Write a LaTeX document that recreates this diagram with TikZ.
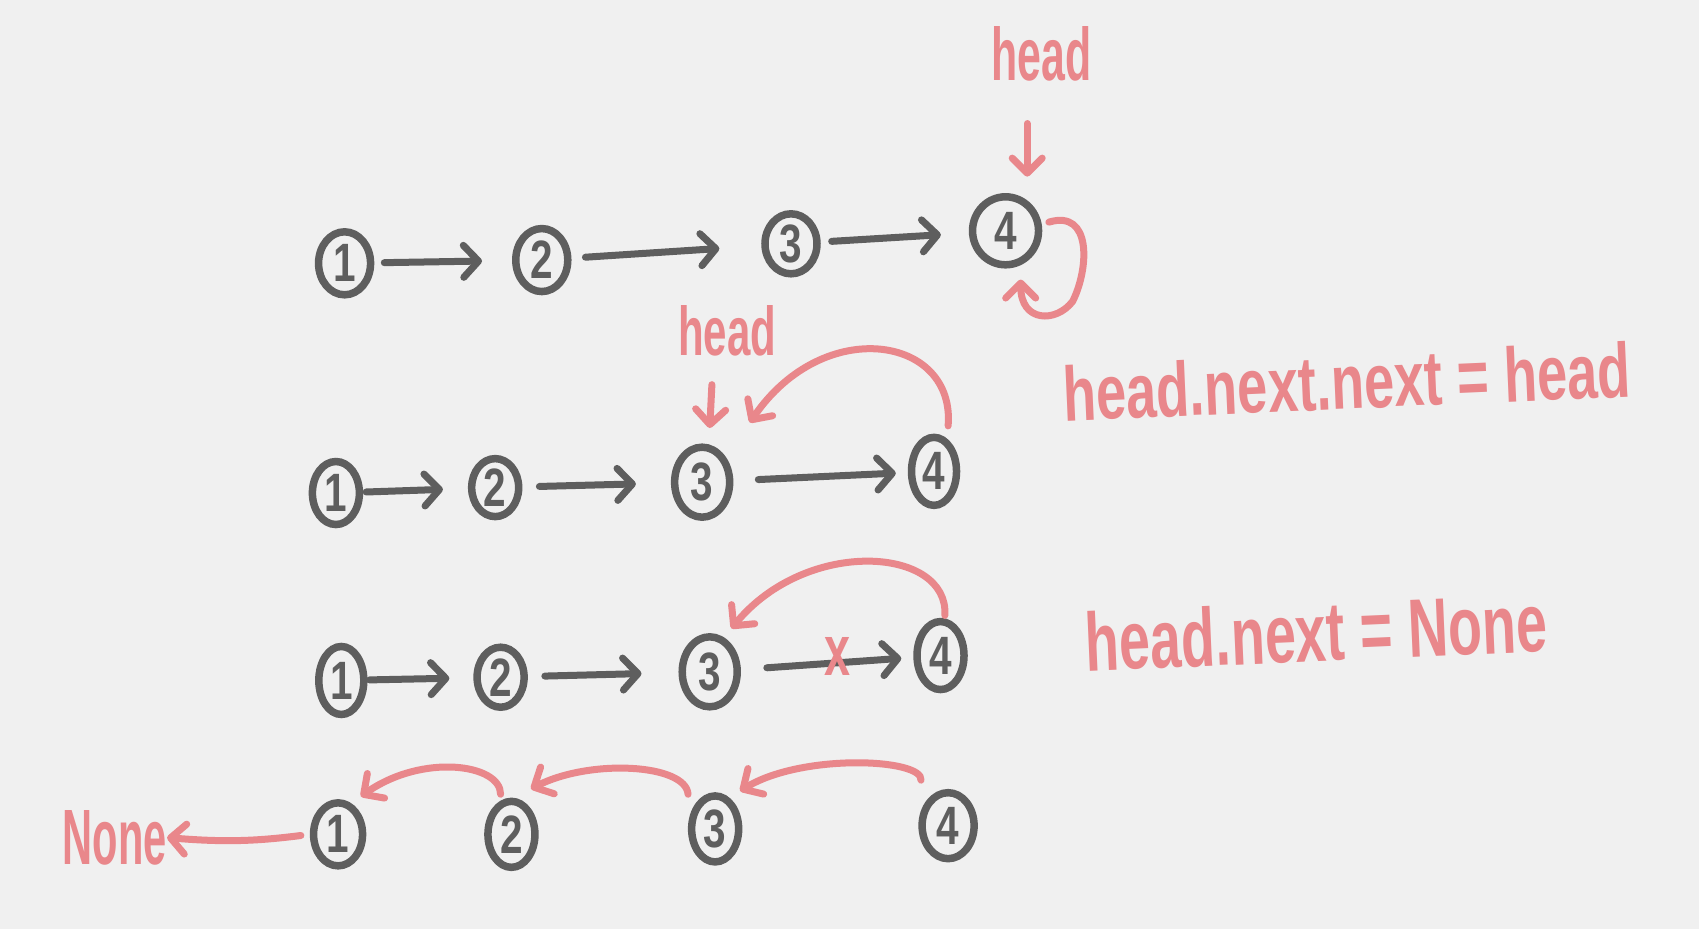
\documentclass[tikz,border=0pt]{standalone}
\usepackage{fontspec}
\setmainfont{Liberation Sans}
\usetikzlibrary{arrows.meta,shapes.geometric}
\definecolor{paper}{HTML}{F0F0F0}
\definecolor{ink}{HTML}{5E5E5E}
\definecolor{pen}{HTML}{E9878B}

\begin{document}
\begin{tikzpicture}[x=1.0835pt,y=-1.0835pt,
  nd/.style 2 args={draw=ink, line width=7.5pt, ellipse, inner sep=0pt,
    minimum width=#1pt, minimum height=#2pt, text=ink,
    font=\fontsize{54}{54}\selectfont\bfseries},
  blk/.style={draw=ink, line width=7pt, line cap=round,
    -{Straight Barb[length=15pt,width=32pt,round]}},
  redarr/.style={draw=pen, line width=7pt, line cap=round,
    -{Straight Barb[length=15pt,width=30pt,round]}},
  lbl/.style={text=pen, inner sep=0pt, anchor=center, font=\bfseries}]

% paper
\fill[paper] (0,0) rectangle (1568,857);
\useasboundingbox (0,0) rectangle (1568,857);

% ---- row 1 ----
\node[nd={52}{63}] (n11) at (318,243) {\scalebox{0.75}[1]{1}};
\node[nd={52}{63}] (n12) at (500,240) {\scalebox{0.75}[1]{2}};
\node[nd={52}{60}] (n13) at (730,225) {\scalebox{0.75}[1]{3}};
\node[nd={66}{68}] (n14) at (928,213) {\scalebox{0.75}[1]{4}};
\draw[blk, shorten <=10pt, shorten >=30pt] (n11) -- (n12);
\draw[blk, shorten <=14pt, shorten >=42pt] (n12) -- (n13);
\draw[blk, shorten <=11pt, shorten >=28pt] (n13) -- (n14);
\node[lbl] (h1) at (961,50) {\resizebox{100pt}{54pt}{head}};
\coordinate (h1a) at (948,114);
\coordinate (h1b) at (948,163);
\draw[redarr] (h1a) -- (h1b);
\draw[redarr] ([shift={(40,-8)}]n14.center) .. controls +(40,-12) and +(15,-30) ..
  ([shift={(62,65)}]n14.center) .. controls +(-15,20) and +(0,40) ..
  ([shift={(14,45)}]n14.center);

% ---- row 2 ----
\node[nd={47}{63}] (n21) at (310,455) {\scalebox{0.75}[1]{1}};
\node[nd={47}{58}] (n22) at (457,450) {\scalebox{0.75}[1]{2}};
\node[nd={55}{70}] (n23) at (648,445) {\scalebox{0.75}[1]{3}};
\node[nd={45}{68}] (n24) at (862,435) {\scalebox{0.75}[1]{4}};
\draw[blk, shorten <=3pt, shorten >=25pt] (n21) -- (n22);
\draw[blk, shorten <=17pt, shorten >=35pt] (n22) -- (n23);
\draw[blk, shorten <=25pt, shorten >=12pt] (n23) -- (n24);
\node[lbl] (h2) at (671,305) {\resizebox{98pt}{50pt}{head}};
\coordinate (h2a) at (657,355);
\coordinate (h2b) at (655,395);
\draw[redarr] (h2a) -- (h2b);
\draw[redarr] ([shift={(13,-42)}]n24.center) .. controls +(7,-83) and +(68,-100) ..
  ([shift={(44,-55)}]n23.center);
\node[lbl, rotate=2.5] (eq1) at (1243,352)
  {\resizebox{568pt}{56pt}{head.next.next = head}};

% ---- row 3 ----
\node[nd={45}{68}] (n31) at (315,628) {\scalebox{0.75}[1]{1}};
\node[nd={47}{60}] (n32) at (462,625) {\scalebox{0.75}[1]{2}};
\node[nd={55}{70}] (n33) at (655,620) {\scalebox{0.75}[1]{3}};
\node[nd={47}{68}] (n34) at (868,605) {\scalebox{0.75}[1]{4}};
\draw[blk, shorten <=2pt, shorten >=24pt] (n31) -- (n32);
\draw[blk, shorten <=17pt, shorten >=37pt] (n32) -- (n33);
\draw[blk, shorten <=26pt, shorten >=12pt] (n33) -- (n34);
\node[lbl] (cut) at (773,606) {\resizebox{26pt}{38pt}{x}};
\draw[redarr] ([shift={(4,-37)}]n34.center) .. controls +(4,-63) and +(70,-85) ..
  ([shift={(20,-40)}]n33.center);
\node[lbl, rotate=2.5] (eq2) at (1215,583)
  {\resizebox{462pt}{60pt}{head.next = None}};

% ---- row 4 ----
\node[nd={49}{63}] (n41) at (312,770) {\scalebox{0.75}[1]{1}};
\node[nd={47}{66}] (n42) at (472,770) {\scalebox{0.75}[1]{2}};
\node[nd={47}{66}] (n43) at (660,765) {\scalebox{0.75}[1]{3}};
\node[nd={52}{66}] (n44) at (875,762) {\scalebox{0.75}[1]{4}};
\draw[redarr] ([shift={(-25,-42)}]n44.center) .. controls +(2,-20) and +(57,-35) ..
  ([shift={(23,-35)}]n43.center);
\draw[redarr] ([shift={(-25,-32)}]n43.center) .. controls +(-2,-28) and +(55,-28) ..
  ([shift={(18,-42)}]n42.center);
\draw[redarr] ([shift={(-10,-37)}]n42.center) .. controls +(0,-28) and +(57,-40) ..
  ([shift={(21,-35)}]n41.center);
\node[lbl] (none) at (106,773) {\resizebox{104pt}{54pt}{None}};
\draw[redarr, shorten <=9pt] (n41.west) to[bend left=6] (none.east);

\end{tikzpicture}
\end{document}
